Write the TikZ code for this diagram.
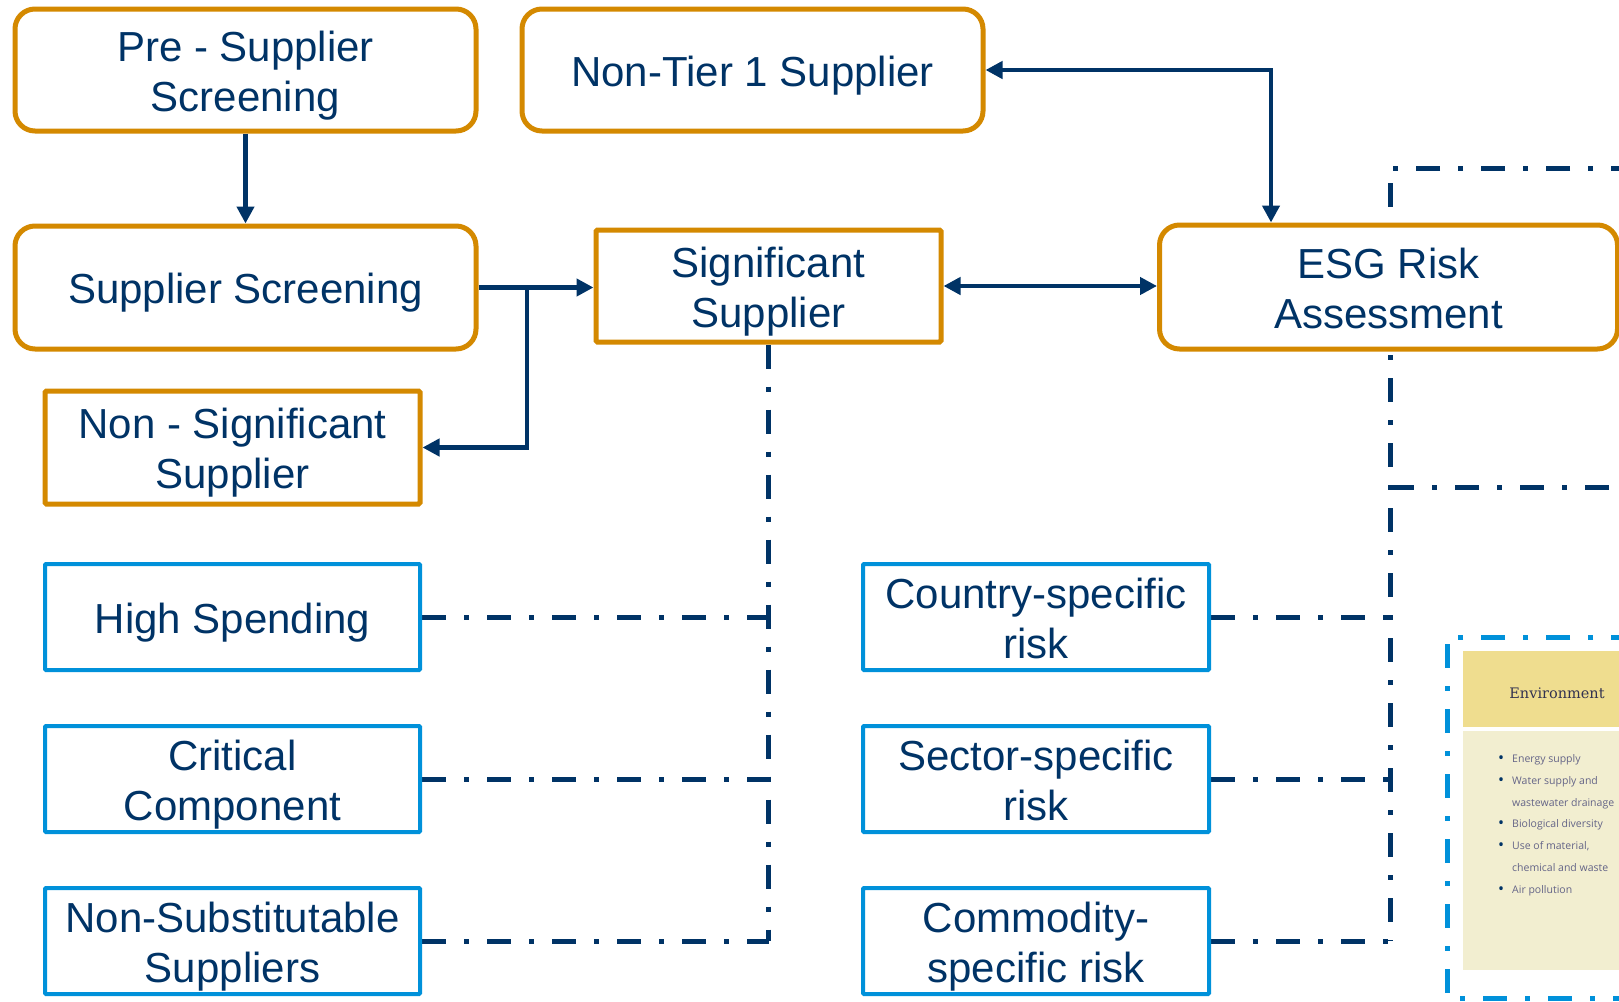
\documentclass[tikz,border=0pt]{standalone}
\usepackage{fontspec}
\setmainfont{Liberation Sans}
\newfontfamily\envfont{DejaVu Serif}
\newfontfamily\listfont{Open Sans}
\usetikzlibrary{arrows.meta,calc}
\definecolor{navy}{RGB}{0,51,102}
\definecolor{orng}{RGB}{212,137,0}
\definecolor{lblue}{RGB}{0,145,218}
\definecolor{hdr}{RGB}{239,221,143}
\definecolor{bdy}{RGB}{242,238,208}
\definecolor{envtxt}{RGB}{50,50,80}
\definecolor{listtxt}{RGB}{100,100,135}
\newcommand\ls{\rule[-9pt]{0pt}{50pt}}
\newcommand\bul{\llap{\raisebox{-1.2pt}{\textcolor{navy}{\fontsize{16}{12}\selectfont•}}\hspace{8pt}}}
\pgfdeclarelayer{bg}
\pgfsetlayers{bg,main}
\begin{document}
\begin{tikzpicture}[x=1pt,y=-1pt,
  txt/.style={font=\fontsize{42}{50}\selectfont, text=navy, align=center, inner sep=0pt},
  obox/.style={txt, draw=orng, line width=5pt, fill=white, rounded corners=20pt, minimum width=461pt, minimum height=122pt},
  sbox/.style={txt, draw=orng, line width=5pt, fill=white, rounded corners=1.5pt},
  bbox/.style={txt, draw=lblue, line width=4pt, fill=white, rounded corners=1pt, minimum height=106pt},
  arr/.style={draw=navy, line width=4.5pt, -{Triangle[length=17pt,width=17pt]}},
  darr/.style={draw=navy, line width=4.5pt, {Triangle[length=17pt,width=17pt]}-{Triangle[length=17pt,width=17pt]}},
  dd/.style={draw=navy, line width=5pt, dash pattern=on 24pt off 18pt on 5pt off 18pt},
  ddb/.style={draw=lblue, line width=5pt, dash pattern=on 24pt off 18pt on 5pt off 18pt},
  lst/.style={anchor=base west, font=\listfont\fontsize{10.5}{12}\selectfont, text=listtxt, inner sep=0pt},
]
\useasboundingbox (0,0) rectangle (1619,1001);

% nodes
\node[obox] (pre) at (245.5,70) {\ls Pre - Supplier\\\ls Screening};
\node[obox] (ntier) at (752.5,70) {\ls Non-Tier 1 Supplier};
\node[obox, minimum height=123pt] (ss) at (245.5,287.5) {\ls Supplier Screening};
\node[sbox, minimum width=345pt, minimum height=112pt] (sig) at (768.5,286) {\ls Significant\\\ls Supplier};
\node[obox, minimum width=458pt, minimum height=124pt] (esg) at (1388.5,287) {\ls ESG Risk\\\ls Assessment};
\node[sbox, minimum width=375pt, minimum height=113pt] (nsig) at (232.5,447.5) {\ls Non - Significant\\\ls Supplier};
\node[bbox, minimum width=375pt] (hs) at (232.5,617) {\ls High Spending};
\node[bbox, minimum width=375pt] (cc) at (232.5,779) {\ls Critical\\\ls Component};
\node[bbox, minimum width=375pt] (nsub) at (232.5,941) {\ls Non-Substitutable\\\ls Suppliers};
\node[bbox, minimum width=346pt] (cty) at (1036,617) {\ls Country-specific\\\ls risk};
\node[bbox, minimum width=346pt] (sec) at (1036,779) {\ls Sector-specific\\\ls risk};
\node[bbox, minimum width=346pt] (com) at (1036,941) {\ls Commodity-\\\ls specific risk};

% solid arrows
\draw[arr] (pre.south) -- (ss.north);
\draw[arr] (ss.east) -- (ss.east -| sig.west);
\coordinate (br) at (527,287.5);
\draw[arr] (br) |- (nsig.east);
\draw[darr] (sig.east) -- (sig.east -| esg.west);
\coordinate (bend) at (1271,70);
\draw[darr] (ntier.east) -- (bend) -- (bend |- esg.north);

% right panel
\coordinate (ptl) at (1447,637);
\coordinate (ptr) at (1700,637);
\coordinate (pbl) at (1447,998);
\coordinate (pbr) at (1700,998);
\draw[ddb] (ptr) -- (ptl) -- (pbl) -- (pbr);
\fill[hdr] (1463,651) rectangle (1700,727);
\fill[bdy] (1463,731) rectangle (1700,970);
\node[font=\envfont\fontsize{14.5}{17}\selectfont, text=envtxt] (env) at (1557,693) {Environment};
\node[lst] (l1) at (1512,762) {\bul Energy supply};
\node[lst] (l2) at (1512,784) {\bul Water supply and};
\node[lst] (l3) at (1512,806) {wastewater drainage};
\node[lst] (l4) at (1512,827) {\bul Biological diversity};
\node[lst] (l5) at (1512,849) {\bul Use of material,};
\node[lst] (l6) at (1512,871) {chemical and waste};
\node[lst] (l7) at (1512,893) {\bul Air pollution};

% dash-dot connectors behind the boxes
\begin{pgfonlayer}{bg}
\fill[white] (0,0) rectangle (1619,1001);
\draw[dd] (sig.south) -- (sig.south |- nsub.east);
\draw[dd] (hs.east) -- (hs.east -| sig.south);
\draw[dd] (cc.east) -- (cc.east -| sig.south);
\draw[dd] (nsub.east) -- (nsub.east -| sig.south);
\coordinate (rtop) at (1390,168);
\coordinate (rtopR) at (1700,168);
\coordinate (rbot) at (1390,487);
\coordinate (rbotR) at (1700,487);
\draw[dd] (rtopR) -- (rtop) -- (rtop |- com.east);
\draw[dd] (rbot) -- (rbotR);
\draw[dd] (cty.east) -- (cty.east -| rtop);
\draw[dd] (sec.east) -- (sec.east -| rtop);
\draw[dd] (com.east) -- (com.east -| rtop);
\end{pgfonlayer}
\end{tikzpicture}
\end{document}
